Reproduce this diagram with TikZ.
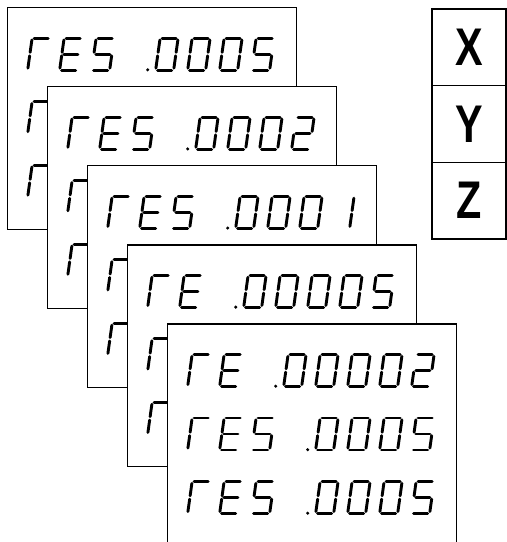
\documentclass[tikz,border=0pt]{standalone}
\usepackage{fontspec}
\newfontfamily\xyzfont{Liberation Sans}
\tikzset{
  segline/.style={line width=2.9pt,line cap=round},
  cardbox/.style={draw,fill=white,line width=1.2pt,anchor=north west,inner sep=0pt,minimum width=289pt,minimum height=221.5pt},
  xyzcell/.style={draw,line width=1.3pt,inner sep=0pt,minimum width=74pt,minimum height=76.67pt,font=\xyzfont\bfseries\fontsize{53}{60}\selectfont}
}
\def\segA{\draw[segline] (1.9,-32)--(16.1,-32);}
\def\segB{\draw[segline] (18,-30.1)--(18,-17.7);}
\def\segC{\draw[segline] (18,-14.3)--(18,-1.9);}
\def\segD{\draw[segline] (1.9,0)--(16.1,0);}
\def\segE{\draw[segline] (0,-14.3)--(0,-1.9);}
\def\segF{\draw[segline] (0,-30.1)--(0,-17.7);}
\def\segG{\draw[segline] (1.9,-16)--(16.1,-16);}
\newcommand\sdigit[1]{\begin{scope}[shift={(\lx+32*\i+1.45,\ly-1.45)},xslant=0.14]\foreach \s in {#1}{\csname seg\s\endcsname}\end{scope}}
\newcommand\chR{\sdigit{A,E,F}}
\newcommand\chE{\sdigit{A,D,E,F,G}}
\newcommand\chS{\sdigit{A,C,D,F,G}}
\newcommand\chO{\sdigit{A,B,C,D,E,F}}
\newcommand\chT{\sdigit{A,B,D,E,G}}
\newcommand\chI{\sdigit{B,C}}
\newcommand\chN{}
\newcommand\chP{\fill (\lx+32*\i-6.5,\ly-1.7) circle (1.7);\chO}
\newcommand\dline[3]{\def\lx{#1}\def\ly{#2}\foreach \c [count=\i from 0] in {#3}{\csname ch\c\endcsname}}
\newcommand\card[4]{%
  \pgfmathsetmacro\cl{7+40*#1}\pgfmathsetmacro\ct{7+79.1*#1}%
  \node[cardbox] (card#1) at (\cl,\ct) {};
  \dline{\cl+19.2}{\ct+64.5}{#2}%
  \dline{\cl+19.2}{\ct+128}{#3}%
  \dline{\cl+19.2}{\ct+191.5}{#4}%
}
\begin{document}
\begin{tikzpicture}[x=1pt,y=-1pt]
\useasboundingbox (0,0) rectangle (507,542);
\card{0}{R,E,S,N,P,O,O,S}{R}{R}
\card{1}{R,E,S,N,P,O,O,T}{R}{R}
\card{2}{R,E,S,N,P,O,O,I}{R}{R}
\card{3}{R,E,N,P,O,O,O,S}{R}{R}
\card{4}{R,E,N,P,O,O,O,T}{R,E,S,N,P,O,O,S}{R,E,S,N,P,O,O,S}
\node[xyzcell] (cx) at (469,47.33) {\scalebox{0.78}[1]{X}};
\node[xyzcell] (cy) at (469,124) {\scalebox{0.78}[1]{Y}};
\node[xyzcell] (cz) at (469,200.67) {\scalebox{0.78}[1]{Z}};
\end{tikzpicture}
\end{document}
